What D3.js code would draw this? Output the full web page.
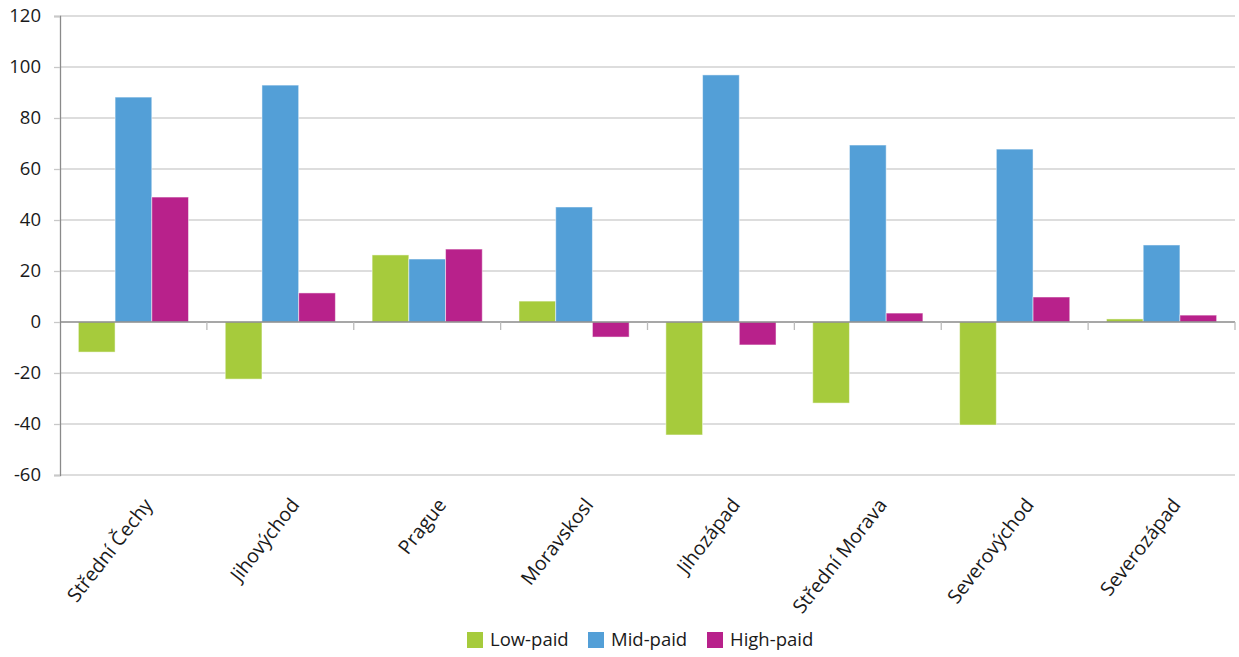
<!DOCTYPE html>
<html><head><meta charset="utf-8">
<script src="https://cdn.jsdelivr.net/npm/d3@7"></script>
<style>body{margin:0;background:#fff}svg{display:block}text{font-family:"Open Sans","Noto Sans",sans-serif;fill:#1a1a1a}</style>
</head><body><svg id="c" width="1239" height="657"></svg>
<script>
const categories = ["Střední Čechy","Jihovýchod","Prague","Moravskosl","Jihozápad","Střední Morava","Severovýchod","Severozápad"];
const seriesNames = ["Low-paid","Mid-paid","High-paid"];
const lowPaid  = [-11.8, -22.4, 26.3, 8.2, -44.3, -31.8, -40.4, 1.2];
const midPaid  = [88.2, 92.9, 24.7, 45.1, 96.9, 69.4, 67.8, 30.2];
const highPaid = [49.0, 11.4, 28.6, -5.9, -9.0, 3.5, 9.8, 2.7];
const yTicks = [-60,-40,-20,0,20,40,60,80,100,120];
const colors = ["#a6cb3c","#539fd7","#b8218b"];
const seriesValues = [lowPaid, midPaid, highPaid];

const svg = d3.select("#c");
const pL = 60, pR = 1235, pT = 16, pB = 475;
const x = d3.scaleBand().domain(categories).range([pL,pR]).padding(0);
const xs = d3.scaleBand().domain(seriesNames).range([0, x.bandwidth()]).paddingInner(0).paddingOuter(0.5);
const y = d3.scaleLinear().domain([-60,120]).range([pB, pT]);

// gridlines
svg.append("g").selectAll("line").data(yTicks.filter(d=>d!==0)).join("line")
  .attr("x1",pL).attr("x2",pR).attr("y1",d=>y(d)).attr("y2",d=>y(d))
  .attr("stroke","#d2d2d2").attr("stroke-width",1.3);

// y axis
const ya = svg.append("g").attr("transform",`translate(${pL},0)`)
  .call(d3.axisLeft(y).tickValues(yTicks).tickFormat(d=>String(d)).tickSize(6).tickPadding(13));
ya.select(".domain").attr("stroke","#8a8a8a").attr("stroke-width",1.3);
ya.selectAll(".tick line").attr("stroke","#c8c8c8").attr("stroke-width",1.3);
ya.selectAll("text").style("font-size","18.5px").style("font-family","'Open Sans',sans-serif").attr("fill","#1a1a1a");

// bars
const g = svg.append("g");
seriesValues.forEach((vals, si) => {
  g.selectAll(null).data(vals).join("rect")
    .attr("x",(d,i)=>x(categories[i]) + xs(seriesNames[si]))
    .attr("width", xs.bandwidth())
    .attr("y", d=>y(Math.max(0,d)))
    .attr("height", d=>Math.abs(y(d)-y(0)))
    .attr("fill", colors[si])
    .attr("stroke","rgba(255,255,255,0.5)").attr("stroke-width",1);
});

// zero axis
const xa = svg.append("g").attr("transform",`translate(0,${y(0)})`);
xa.append("line").attr("x1",pL).attr("x2",pR).attr("stroke","#8a8a8a").attr("stroke-width",1.3);
xa.selectAll(".tk").data(categories).join("line")
  .attr("x1",d=>x(d) + x.bandwidth()).attr("x2",d=>x(d) + x.bandwidth())
  .attr("y1",0).attr("y2",8).attr("stroke","#bbbbbb").attr("stroke-width",1.3);

// category labels
svg.append("g").selectAll("text").data(categories).join("text")
  .attr("transform", d=>`translate(${x(d)+x.bandwidth()/2+16},${pB+27}) rotate(-52)`)
  .attr("text-anchor","end").attr("dominant-baseline","middle")
  .style("font-size","19.5px").text(d=>d);

// legend
const legX = [467, 588, 707];
const leg = svg.append("g");
seriesNames.forEach((s,i)=>{
  leg.append("rect").attr("x",legX[i]).attr("y",632).attr("width",16).attr("height",16).attr("fill",colors[i]);
  leg.append("text").attr("x",legX[i]+23).attr("y",641).attr("dominant-baseline","middle")
    .style("font-size","18.5px").style("font-family","'Open Sans',sans-serif").text(s);
});
</script></body></html>
